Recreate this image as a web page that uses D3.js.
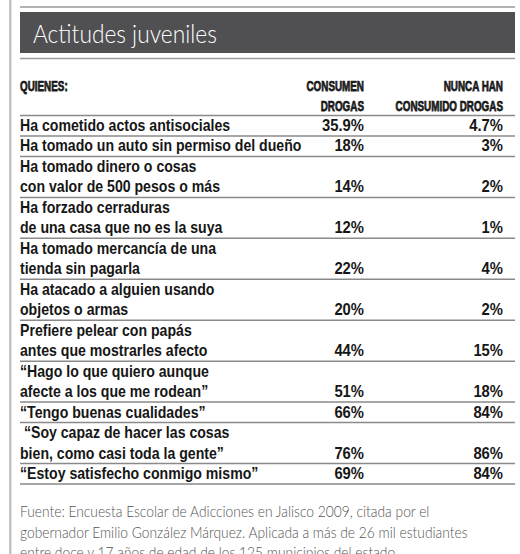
<!DOCTYPE html>
<html>
<head>
<meta charset="utf-8">
<script src="https://cdn.jsdelivr.net/npm/d3@7"></script>
<style>
  html, body { margin: 0; padding: 0; background: #fff; }
  svg { display: block; }
  text { white-space: pre; }
</style>
</head>
<body>
<svg id="chart" width="520" height="554"></svg>
<script>
// ---- data ----
const title = "Actitudes juveniles";
const headerLabel = "QUIENES:";
const seriesNames = [["CONSUMEN", "DROGAS"], ["NUNCA HAN", "CONSUMIDO DROGAS"]];
const categories = [
  ["Ha cometido actos antisociales"],
  ["Ha tomado un auto sin permiso del dueño"],
  ["Ha tomado dinero o cosas", "con valor de 500 pesos o más"],
  ["Ha forzado cerraduras", "de una casa que no es la suya"],
  ["Ha tomado mercancía de una", "tienda sin pagarla"],
  ["Ha atacado a alguien usando", "objetos o armas"],
  ["Prefiere pelear con papás", "antes que mostrarles afecto"],
  ["“Hago lo que quiero aunque", "afecte a los que me rodean”"],
  ["“Tengo buenas cualidades”"],
  [" “Soy capaz de hacer las cosas", "bien, como casi toda la gente”"],
  ["“Estoy satisfecho conmigo mismo”"]
];
const consumen = [35.9, 18, 14, 12, 22, 20, 44, 51, 66, 76, 69];
const nuncaHan = [4.7, 3, 2, 1, 4, 2, 15, 18, 84, 86, 84];
const source = [
  "Fuente: Encuesta Escolar de Adicciones en Jalisco 2009, citada por el",
  "gobernador Emilio González Márquez. Aplicada a más de 26 mil estudiantes",
  "entre doce y 17 años de edad de los 125 municipios del estado."
];

// ---- layout ----
const svg = d3.select("#chart");
const left = 20, right = 515;
const fmt = v => (Number.isInteger(v) ? v : v.toFixed(1)) + "%";
// horizontal condensing of a text (fonts available are wider than the original)
function squeeze(sel, k) {
  sel.each(function () {
    const w = this.getComputedTextLength();
    d3.select(this).attr("textLength", w * k).attr("lengthAdjust", "spacingAndGlyphs");
  });
}

// left border
svg.append("rect").attr("x", 9).attr("y", 0).attr("width", 2.5).attr("height", 554).attr("fill", "#c4c4c4");
// top rule
svg.append("line").attr("x1", left).attr("x2", right).attr("y1", 7).attr("y2", 7)
  .attr("stroke", "#9a9a9a").attr("stroke-width", 1.5);
// title bar
svg.append("rect").attr("x", left).attr("y", 12).attr("width", right - left).attr("height", 41).attr("fill", "#505053");
svg.append("text").attr("x", 33).attr("y", 43).text(title)
  .attr("fill", "#fff").attr("font-family", "Lato, 'Open Sans', sans-serif").attr("font-weight", 300)
  .attr("font-size", 25).call(squeeze, 0.91);
svg.append("line").attr("x1", left).attr("x2", right).attr("y1", 58.5).attr("y2", 58.5)
  .attr("stroke", "#9a9a9a").attr("stroke-width", 1.5);

// columns
const x = d3.scaleOrdinal().domain(["label", "c1", "c2"]).range([left, 364, 503]);

// header
const headFont = "'Liberation Sans', Arial, sans-serif";
const head = svg.append("g").attr("font-family", headFont).attr("font-weight", 700)
  .attr("font-size", 14.5).attr("fill", "#1a1a1a");
head.append("text").attr("x", x("label")).attr("y", 91).text(headerLabel);
seriesNames.forEach((lines, i) => {
  lines.forEach((ln, j) => {
    head.append("text").attr("x", x(i === 0 ? "c1" : "c2")).attr("y", 91 + j * 20.4)
      .attr("text-anchor", "end").text(ln);
  });
});
head.selectAll("text").call(squeeze, 0.68).attr("stroke", "#1a1a1a").attr("stroke-width", 0.75);
svg.append("line").attr("x1", left).attr("x2", right).attr("y1", 115.5).attr("y2", 115.5)
  .attr("stroke", "#8a8a8a").attr("stroke-width", 1.5);

// rows
const lineCounts = categories.map(c => c.length);
const cum = [0];
lineCounts.forEach(n => cum.push(cum[cum.length - 1] + n));
const y = d3.scaleLinear().domain([0, cum[cum.length - 1]]).range([115.5, 484]);

const rowFont = "'Liberation Sans', Arial, sans-serif";
const rows = svg.append("g").selectAll("g").data(categories).join("g");
rows.each(function (lines, i) {
  const g = d3.select(this).attr("font-family", rowFont).attr("font-weight", 700)
    .attr("font-size", 17).attr("fill", "#161616");
  lines.forEach((ln, j) => {
    g.append("text").attr("class", "lab").attr("x", x("label")).attr("y", y(cum[i] + j + 1) - 5).text(ln);
  });
  const yb = y(cum[i + 1]) - 5;
  g.append("text").attr("class", "val").attr("x", x("c1")).attr("y", yb).attr("text-anchor", "end").text(fmt(consumen[i]));
  g.append("text").attr("class", "val").attr("x", x("c2")).attr("y", yb).attr("text-anchor", "end").text(fmt(nuncaHan[i]));
  g.append("line").attr("x1", left).attr("x2", right).attr("y1", y(cum[i + 1])).attr("y2", y(cum[i + 1]))
    .attr("stroke", "#8a8a8a").attr("stroke-width", 1.5);
});
svg.selectAll("text.lab").call(squeeze, 0.83);
svg.selectAll("text.val").call(squeeze, 0.87);

// source
svg.append("g").selectAll("text").data(source).join("text")
  .attr("x", left).attr("y", (d, i) => 517 + i * 20.5).text(d => d)
  .attr("font-family", "Lato, 'Open Sans', sans-serif").attr("font-weight", 300)
  .attr("font-size", 15).attr("fill", "#555")
  .call(squeeze, 0.92);
</script>
</body>
</html>
